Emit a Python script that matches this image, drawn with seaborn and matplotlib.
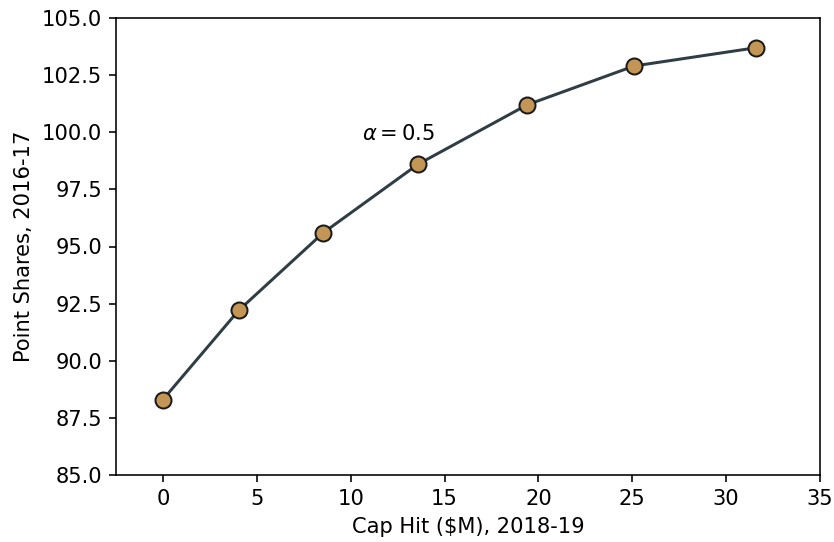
import matplotlib
matplotlib.use("Agg")
import matplotlib.pyplot as plt
import seaborn as sns
import pandas as pd

cap_hit = [0.0, 4.03, 8.54, 13.59, 19.4, 25.1, 31.6]
point_shares = [88.3, 92.2, 95.6, 98.6, 101.2, 102.9, 103.7]
alpha_label = r"$\alpha = 0.5$"

LINE_COLOR = "#2f3d45"
MARKER_COLOR = "#c49656"

plt.rcParams["font.size"] = 10.5

df = pd.DataFrame({"cap_hit": cap_hit, "point_shares": point_shares})

fig = plt.figure(figsize=(834 / 144, 542 / 144), dpi=144)
ax = fig.add_axes([116 / 834, 1 - 475 / 542, (820 - 116) / 834, (475 - 18) / 542])

sns.lineplot(
    data=df,
    x="cap_hit",
    y="point_shares",
    ax=ax,
    color=LINE_COLOR,
    linewidth=1.5,
    marker="o",
    markersize=8,
    markerfacecolor=MARKER_COLOR,
    markeredgecolor="#1a1a1a",
    markeredgewidth=1.0,
)

ax.text(10.6, 99.65, alpha_label)

ax.set_xlim(-2.5, 35)
ax.set_ylim(85, 105)
ax.set_xticks([0, 5, 10, 15, 20, 25, 30, 35])
ax.set_yticks([85.0, 87.5, 90.0, 92.5, 95.0, 97.5, 100.0, 102.5, 105.0])
ax.set_xlabel("Cap Hit ($M), 2018-19")
ax.set_ylabel("Point Shares, 2016-17")

fig.savefig("out.png", dpi=144)
